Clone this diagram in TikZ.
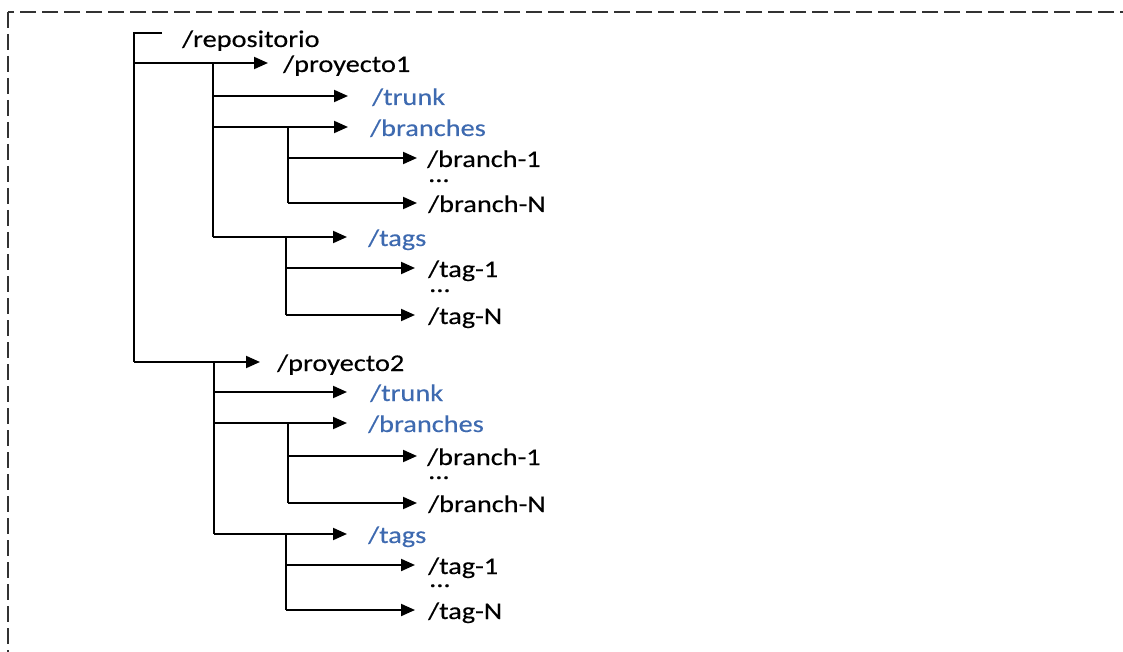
\documentclass[tikz,border=0pt]{standalone}
\usepackage{fontspec}
\setmainfont[FakeStretch=1.18,FakeBold=0.3]{Carlito}
\usetikzlibrary{arrows.meta}
\definecolor{dirblue}{RGB}{62,106,176}
\definecolor{frame}{RGB}{50,50,50}
\tikzset{
  lbl/.style={anchor=west, inner sep=0pt, font=\fontsize{24}{28}\selectfont, text height=22pt, text depth=4pt},
  bluelbl/.style={lbl, text=dirblue},
  dots/.style={anchor=base west, inner sep=0pt, font=\fontsize{24}{28}\selectfont, text height=4pt, text depth=0pt},
  arr/.style={line width=2pt, -{Triangle[length=14pt,width=12pt]}},
  trunkline/.style={line width=2pt},
  frameline/.style={draw=frame, line width=2pt, dash pattern=on 16pt off 6pt}
}
\begin{document}
\begin{tikzpicture}[x=1pt,y=-1pt]
\useasboundingbox (0,0) rectangle (1123,652);
\begin{scope}
\clip (0,0) rectangle (1123,652);
\draw[frameline] (8,12) rectangle (1140,720);
\end{scope}
% columns
\coordinate (v0) at (134,0);
\coordinate (v1) at (213,0);
\coordinate (v2) at (288,0);
\coordinate (v3) at (286,0);
\coordinate (v4) at (214,0);
\coordinate (v5) at (288,0);
\coordinate (v6) at (286,0);
\coordinate (stub) at (162,33);
% labels
\node[lbl] (repo) at (182,38) {/repositorio};
\node[lbl] (p1) at (283,63) {/proyecto1};
\node[bluelbl] (tr1) at (372,96) {/trunk};
\node[bluelbl] (br1) at (370,127) {/branches};
\node[lbl] (b11) at (427,158) {/branch-1};
\node[dots] (d1) at (428,182) {...};
\node[lbl] (b1n) at (428,203) {/branch-N};
\node[bluelbl] (tg1) at (368,237) {/tags};
\node[lbl] (t11) at (428,268) {/tag-1};
\node[dots] (d2) at (429,292) {...};
\node[lbl] (t1n) at (428,315) {/tag-N};
\node[lbl] (p2) at (277,362) {/proyecto2};
\node[bluelbl] (tr2) at (370,392) {/trunk};
\node[bluelbl] (br2) at (368,423) {/branches};
\node[lbl] (b21) at (427,456) {/branch-1};
\node[dots] (d3) at (428,479) {...};
\node[lbl] (b2n) at (428,503) {/branch-N};
\node[bluelbl] (tg2) at (368,534) {/tags};
\node[lbl] (t21) at (428,565) {/tag-1};
\node[dots] (d4) at (429,587) {...};
\node[lbl] (t2n) at (428,610) {/tag-N};
% tree lines
\draw[trunkline] (stub) -- (stub -| v0) -- (v0 |- p2.west);
\draw[trunkline] (v1 |- p1.west) -- (v1 |- tg1.west);
\draw[trunkline] (v2 |- br1.west) -- (v2 |- b1n.west);
\draw[trunkline] (v3 |- tg1.west) -- (v3 |- t1n.west);
\draw[trunkline] (v4 |- p2.west) -- (v4 |- tg2.west);
\draw[trunkline] (v5 |- br2.west) -- (v5 |- b2n.west);
\draw[trunkline] (v6 |- tg2.west) -- (v6 |- t2n.west);
% arrows
\draw[arr] (v0 |- p1.west) -- ([xshift=-15pt]p1.west);
\draw[arr] (v1 |- tr1.west) -- ([xshift=-24pt]tr1.west);
\draw[arr] (v1 |- br1.west) -- ([xshift=-22pt]br1.west);
\draw[arr] (v2 |- b11.west) -- ([xshift=-10pt]b11.west);
\draw[arr] (v2 |- b1n.west) -- ([xshift=-11pt]b1n.west);
\draw[arr] (v1 |- tg1.west) -- ([xshift=-21pt]tg1.west);
\draw[arr] (v3 |- t11.west) -- ([xshift=-13pt]t11.west);
\draw[arr] (v3 |- t1n.west) -- ([xshift=-13pt]t1n.west);
\draw[arr] (v0 |- p2.west) -- ([xshift=-17pt]p2.west);
\draw[arr] (v4 |- tr2.west) -- ([xshift=-23pt]tr2.west);
\draw[arr] (v4 |- br2.west) -- ([xshift=-21pt]br2.west);
\draw[arr] (v5 |- b21.west) -- ([xshift=-10pt]b21.west);
\draw[arr] (v5 |- b2n.west) -- ([xshift=-11pt]b2n.west);
\draw[arr] (v4 |- tg2.west) -- ([xshift=-21pt]tg2.west);
\draw[arr] (v6 |- t21.west) -- ([xshift=-13pt]t21.west);
\draw[arr] (v6 |- t2n.west) -- ([xshift=-13pt]t2n.west);
\end{tikzpicture}
\end{document}
